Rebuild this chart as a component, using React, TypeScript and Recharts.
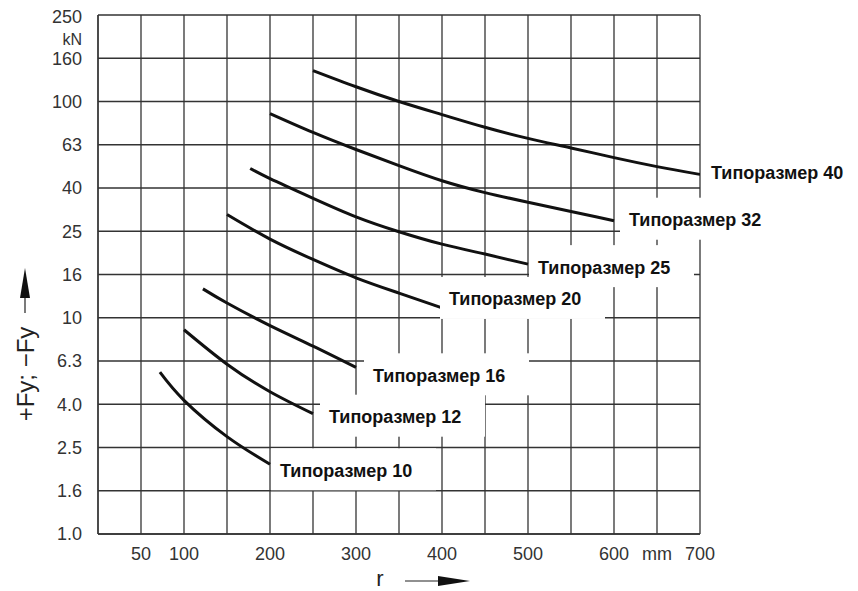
import React from 'react';
import { LineChart, Line, XAxis, YAxis, CartesianGrid, LabelList } from 'recharts';

// r in mm, force in kN
const r10 = [72, 100, 150, 200];
const f10 = [5.6, 4.15, 2.82, 2.1];
const r12 = [100, 150, 200, 250];
const f12 = [8.8, 6.1, 4.55, 3.6];
const r16 = [122, 150, 200, 250, 300];
const f16 = [13.6, 11.7, 9.2, 7.4, 5.9];
const r20 = [150, 200, 250, 300, 350, 400];
const f20 = [30, 23.1, 18.6, 15.3, 13, 11.1];
const r25 = [177, 200, 250, 300, 350, 400, 450, 500];
const f25 = [49, 44, 35.7, 29.3, 25, 21.9, 19.7, 17.7];
const r32 = [200, 250, 300, 350, 400, 450, 500, 550, 600];
const f32 = [88, 72, 60, 50.5, 43, 37.9, 34.2, 31, 28.1];
const r40 = [250, 300, 350, 400, 450, 500, 550, 600, 650, 700];
const f40 = [139, 117, 100, 87, 76, 67.5, 61, 55, 50, 46];

const sizeNames = ['10', '12', '16', '20', '25', '32', '40'];

const xTicks = [0, 50, 100, 150, 200, 250, 300, 350, 400, 450, 500, 550, 600, 650, 700];
const xTickLabels = ['', '50', '100', '', '200', '', '300', '', '400', '', '500', '', '600', 'mm', '700'];
const yTickLabels = ['1.0', '1.6', '2.5', '4.0', '6.3', '10', '16', '25', '40', '63', '100', '160', '250'];
const yTicks = yTickLabels.map((_, i) => Math.pow(10, i / 5));

// where each "Типоразмер" label sits relative to the curve end
const labelOffsets = [[10, 6], [16, 3], [17, 8], [7, -9], [10, 3], [15, -1], [11, -2]];

const FONT = '"Liberation Sans", Arial, Helvetica, sans-serif';
const GRID = '#333';

const series = [
  [r10, f10], [r12, f12], [r16, f16], [r20, f20], [r25, f25], [r32, f32], [r40, f40],
].map(([rs, fs], i) => ({
  name: 'Типоразмер ' + sizeNames[i],
  data: rs.map((r, j) => ({ r, f: fs[j] })),
  offset: labelOffsets[i],
}));

const XTick = (props: any) => {
  const { x, y, index } = props;
  const label = xTickLabels[index] ?? '';
  return (
    <text x={x} y={y + 26} textAnchor="middle" fontSize={18} fill="#333" fontFamily={FONT}>
      {label}
    </text>
  );
};

const YTick = (props: any) => {
  const { x, y, index } = props;
  const top = index === yTickLabels.length - 1;
  return (
    <g>
      <text x={x - 16} y={y + (top ? 2 : 0)} dy="0.36em" textAnchor="end" fontSize={18} fill="#333" fontFamily={FONT}>
        {yTickLabels[index]}
      </text>
      {top && (
        <text x={x - 16} y={y + 24} dy="0.36em" textAnchor="end" fontSize={16} fill="#333" fontFamily={FONT}>
          kN
        </text>
      )}
    </g>
  );
};

const makeLabel = (name: string, count: number, offset: number[]) => (props: any) => {
  const { index } = props;
  if (index !== count - 1) return null;
  const px = props.x ?? props.viewBox?.x;
  const py = props.y ?? props.viewBox?.y;
  const tx = px + offset[0];
  const ty = py + offset[1];
  return (
    <g>
      <rect x={tx - 9} y={ty - 22} width={165} height={42} fill="#fff" />
      <text x={tx} y={ty} dy="0.36em" fontSize={18} fontWeight="bold" fill="#111" fontFamily={FONT}>
        {name}
      </text>
    </g>
  );
};

export default function App() {
  return (
    <div style={{ position: 'absolute', left: 0, top: 0, width: 858, height: 591 }}>
      <LineChart width={858} height={591} margin={{ top: 15, right: 158, bottom: 0, left: 0 }}>
        <CartesianGrid stroke={GRID} strokeWidth={1.3} />
        <XAxis
          type="number"
          dataKey="r"
          domain={[0, 700]}
          ticks={xTicks}
          interval={0}
          allowDataOverflow
          height={57}
          tickSize={0}
          tickMargin={0}
          tickLine={false}
          axisLine={{ stroke: GRID, strokeWidth: 1.3 }}
          tick={<XTick />}
        />
        <YAxis
          type="number"
          scale="log"
          domain={[1, Math.pow(10, 2.4)]}
          ticks={yTicks}
          interval={0}
          allowDataOverflow
          width={98}
          tickSize={0}
          tickMargin={0}
          tickLine={false}
          axisLine={{ stroke: GRID, strokeWidth: 1.3 }}
          tick={<YTick />}
        />
        {series.map((s) => (
          <Line
            key={s.name}
            data={s.data}
            dataKey="f"
            type="natural"
            stroke="#111"
            strokeWidth={3}
            dot={false}
            isAnimationActive={false}
          >
            <LabelList dataKey="f" content={makeLabel(s.name, s.data.length, s.offset)} />
          </Line>
        ))}
      </LineChart>
      <svg
        width={858}
        height={591}
        style={{ position: 'absolute', left: 0, top: 0, pointerEvents: 'none' }}
      >
        <text
          x={25}
          y={374}
          transform="rotate(-90 25 374)"
          textAnchor="middle"
          dominantBaseline="central"
          fontSize={24}
          fill="#222"
          fontFamily={FONT}
        >
          +Fy; −Fy
        </text>
        <line x1={25} y1={313} x2={25} y2={296} stroke="#222" strokeWidth={1.2} />
        <polygon points="25,268 20,298 30,298" fill="#111" />
        <text x={380} y={586} textAnchor="middle" fontSize={22} fill="#222" fontFamily={FONT}>
          r
        </text>
        <line x1={405} y1={581} x2={440} y2={581} stroke="#222" strokeWidth={1.2} />
        <polygon points="470,581 438,576 438,586" fill="#111" />
      </svg>
    </div>
  );
}
